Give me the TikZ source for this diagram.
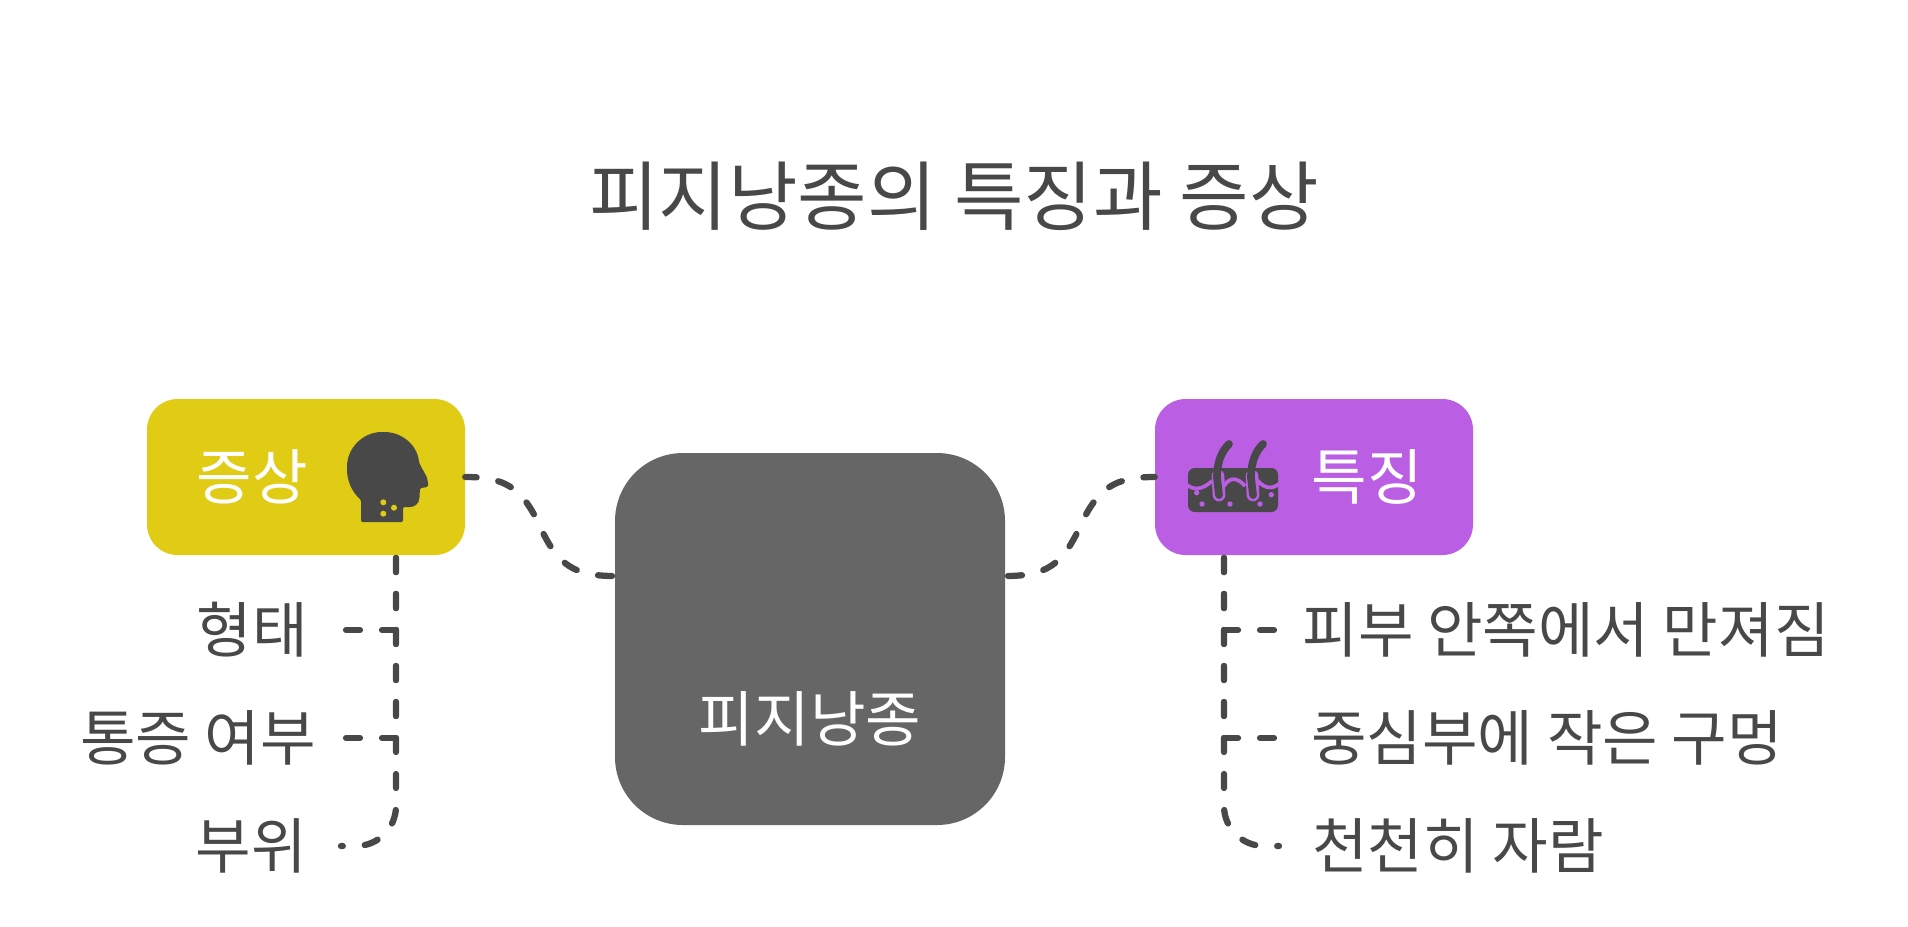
\documentclass[tikz,border=0pt]{standalone}
\usepackage{fontspec}
\setmainfont{Noto Sans CJK KR}
\usetikzlibrary{calc}
\definecolor{ink}{HTML}{484848}
\definecolor{yfill}{HTML}{E0CC14}
\definecolor{pfill}{HTML}{BA5EE4}
\definecolor{gfill}{HTML}{666666}
\newcommand{\fs}[1]{\fontsize{#1}{#1}\selectfont}
\tikzset{
  x=0.75pt,y=-0.75pt,
  conn/.style={draw=ink,line width=4.7pt,line cap=round,dash pattern=on 10.5pt off 16.5pt},
  connS/.style={conn,dash phase=2pt},
  headtxt/.style={inner sep=0pt,text=white,font=\fs{45.3}},
  item/.style={inner sep=0pt,text=ink,font=\fs{45.3}},
  ybx/.style={fill=yfill,minimum width=238.5pt,minimum height=117pt,rounded corners=23pt,inner sep=0pt},
  pbx/.style={fill=pfill,minimum width=238.5pt,minimum height=117pt,rounded corners=23pt,inner sep=0pt},
  cbx/.style={fill=gfill,minimum width=292.5pt,minimum height=279pt,rounded corners=51pt,inner sep=0pt},
}
\begin{document}
\begin{tikzpicture}
\useasboundingbox (0,0) rectangle (1908,926);
\fill[white] (0,0) rectangle (1908,926);
\node[inner sep=0pt,text=ink,font=\fs{56.7}] (title) at (954,196) {피지낭종의 특징과 증상};
% boxes
\node[ybx] (sym) at (306,477) {};
\node[pbx] (fea) at (1314,477) {};
\node[cbx] (core) at (810,639) {};
\node[headtxt] (symt) at (252.5,477) {증상};
\node[headtxt] (feat) at (1367,477) {특징};
\node[headtxt] (coret) at (810,719) {피지낭종};
% items
\node[item] (s1) at (252,630) {형태};
\node[item] (s2) at (198,738) {통증 여부};
\node[item] (s3) at (251,846) {부위};
\node[item] (f1) at (1566,630) {피부 안쪽에서 만져짐};
\node[item] (f2) at (1547,738) {중심부에 작은 구멍};
\node[item] (f3) at (1458,846) {천천히 자람};
% head icon
\fill[ink,rounded corners=1pt] (361,520) -- (361,500) .. controls (352,492) and (347,481) .. (347,468)
  .. controls (347,448) and (363,432) .. (383,432) .. controls (402,432) and (417,445) .. (419,462)
  .. controls (422,470) and (428,476) .. (428,484) .. controls (428,487) and (424,488) .. (420,488)
  -- (419.5,497) .. controls (419,504) and (414,507) .. (409,507) -- (403,507) -- (403,522) -- (361,522) -- cycle;
\fill[yfill] (383.3,502.3) circle[radius=3] (394,507.7) circle[radius=3] (383.3,513.7) circle[radius=3];
% skin icon
\fill[ink,rounded corners=5pt] (1188,468) rectangle (1278,512);
\draw[pfill,line width=2.8pt] (1187,485) .. controls (1195,491) and (1203,489) .. (1212,481);
\draw[pfill,line width=2.8pt] (1224,486) .. controls (1230,476) and (1238,478) .. (1245,486);
\draw[pfill,line width=2.8pt] (1257,480) .. controls (1264,488) and (1271,490) .. (1279,484);
\foreach \d in {0,34}{
  \draw[pfill,line width=9.5pt,line cap=round] (1219+\d,495) -- (1218+\d,476);
  \fill[pfill] (1212+\d,461) rectangle (1226+\d,468);
  \draw[ink,line width=5.8pt,line cap=round] (1219+\d,495) -- (1217+\d,478) .. controls (1217+\d,461) and (1222+\d,451) .. (1229+\d,444);
}
\fill[pfill] (1196.7,492.7) circle[radius=2.7] (1202,504) circle[radius=2.7] (1230,504) circle[radius=2.7] (1260,504) circle[radius=2.7] (1271.3,494.7) circle[radius=2.7];
% anchors
\coordinate (cl) at ($(core.west)+(0,-63)$);
\coordinate (cr) at ($(core.east)+(0,-63)$);
\coordinate (sb) at (396,558);
\coordinate (fb) at (1224,558);
\coordinate (a1) at (345,630);
\coordinate (a2) at (345,738);
\coordinate (a3) at (341,846);
\coordinate (b1) at (1275,630);
\coordinate (b2) at (1275,738);
\coordinate (b3) at (1279,846);
% connectors
\draw[connS] (sym.east) .. controls +(39,0) and (522,487) .. (540,526.5) .. controls (558,566) and (575,576) .. (cl);
\draw[connS] (fea.west) .. controls +(-39,0) and (1098,487) .. (1080,526.5) .. controls (1062,566) and (1045,576) .. (cr);
\draw[conn] (sb) |- (a1);
\draw[conn] (sb) |- (a2);
\draw[conn,rounded corners=30pt] (sb) |- (a3);
\draw[conn] (fb) |- (b1);
\draw[conn] (fb) |- (b2);
\draw[conn,rounded corners=30pt] (fb) |- (b3);
\end{tikzpicture}
\end{document}
